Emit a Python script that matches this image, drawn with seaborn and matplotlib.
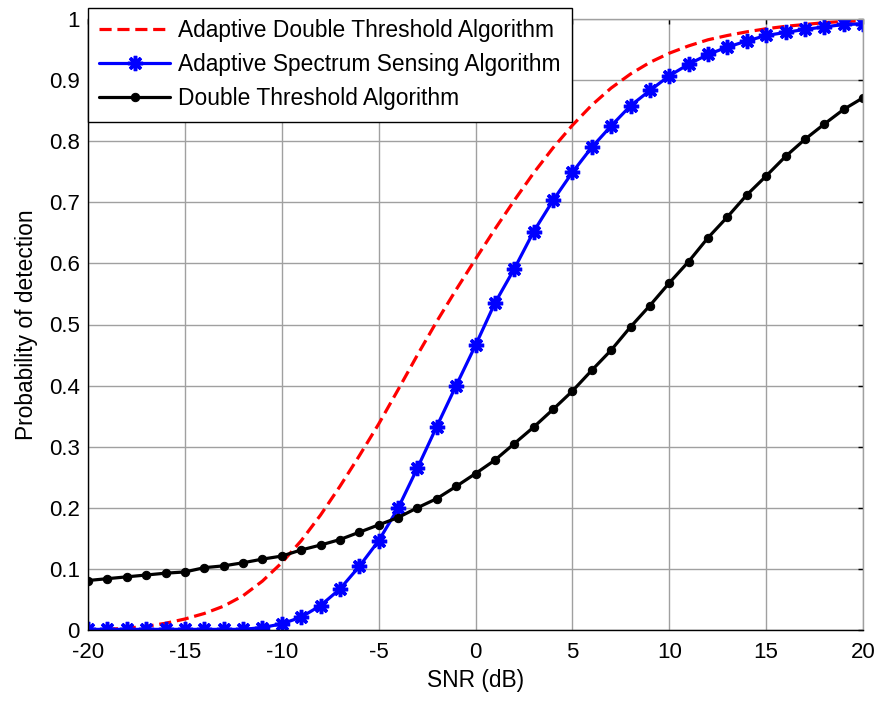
import numpy as np
import pandas as pd
import matplotlib
matplotlib.use("Agg")
import matplotlib.pyplot as plt
import seaborn as sns

# SNR axis (dB), one point per dB
snr = list(range(-20, 21))

# Adaptive Double Threshold Algorithm (red dashed)
adaptive_double = [0.000, 0.001, 0.003, 0.006, 0.011, 0.018, 0.027, 0.039, 0.056, 0.080,
                   0.110, 0.146, 0.188, 0.235, 0.285, 0.337, 0.393, 0.450, 0.505, 0.557,
                   0.607, 0.656, 0.703, 0.748, 0.789, 0.826, 0.859, 0.887, 0.910, 0.929,
                   0.944, 0.956, 0.966, 0.973, 0.979, 0.984, 0.988, 0.991, 0.994, 0.996,
                   0.997]

# Adaptive Spectrum Sensing Algorithm (blue, star markers)
adaptive_sensing = [0.001, 0.001, 0.001, 0.001, 0.001, 0.001, 0.001, 0.001, 0.001, 0.004,
                    0.010, 0.021, 0.040, 0.067, 0.104, 0.146, 0.199, 0.265, 0.333, 0.400,
                    0.466, 0.535, 0.591, 0.652, 0.703, 0.749, 0.790, 0.825, 0.858, 0.883,
                    0.907, 0.926, 0.942, 0.954, 0.964, 0.973, 0.978, 0.983, 0.987, 0.991,
                    0.992]

# Double Threshold Algorithm (black, dot markers)
double_threshold = [0.081, 0.084, 0.087, 0.090, 0.093, 0.095, 0.102, 0.105, 0.110, 0.116,
                    0.121, 0.131, 0.139, 0.148, 0.160, 0.172, 0.184, 0.200, 0.215, 0.235,
                    0.256, 0.278, 0.305, 0.332, 0.361, 0.391, 0.425, 0.458, 0.496, 0.531,
                    0.568, 0.603, 0.642, 0.676, 0.712, 0.743, 0.775, 0.803, 0.828, 0.852,
                    0.871]

labels = ["Adaptive Double Threshold Algorithm",
          "Adaptive Spectrum Sensing Algorithm",
          "Double Threshold Algorithm"]

df = pd.DataFrame({"snr": snr, "ad": adaptive_double,
                   "as": adaptive_sensing, "dt": double_threshold})

sns.set_style("white")
plt.rcParams["font.family"] = ["Liberation Sans", "DejaVu Sans"]
plt.rcParams["axes.unicode_minus"] = False
plt.rcParams["text.color"] = "black"
plt.rcParams["axes.labelcolor"] = "black"

fig = plt.figure(figsize=(8.82, 7.02), dpi=100)
ax = fig.add_axes([88 / 882, 1 - 630 / 702, (863 - 88) / 882, (630 - 19) / 702])

sns.lineplot(data=df, x="snr", y="ad", ax=ax, color="#ff0000", lw=2.3,
             linestyle=(0, (3.8, 1.8)), label=labels[0])
sns.lineplot(data=df, x="snr", y="as", ax=ax, color="#0000ff", lw=2.3,
             marker=(8, 2, 0), markersize=11, markeredgewidth=2.5,
             markeredgecolor="#0000ff", label=labels[1])
sns.lineplot(data=df, x="snr", y="dt", ax=ax, color="black", lw=2.3,
             marker="o", markersize=6, markeredgecolor="black", label=labels[2])

ax.set_xlim(-20, 20)
ax.set_ylim(0, 1)
ax.set_xticks(range(-20, 21, 5))
ax.set_yticks(np.arange(0, 1.01, 0.1))
ax.set_yticklabels(["0", "0.1", "0.2", "0.3", "0.4", "0.5", "0.6", "0.7", "0.8", "0.9", "1"])
ax.grid(True, color="#a0a0a0", lw=1)
ax.set_axisbelow(True)
ax.tick_params(direction="in", length=3.5, width=1, top=True, right=True,
               labelsize=16, colors="black")
ax.tick_params(axis="x", pad=9)
ax.tick_params(axis="y", pad=6)

for side in ["left", "bottom"]:
    ax.spines[side].set_color("black")
    ax.spines[side].set_linewidth(1)
for side in ["top", "right"]:
    ax.spines[side].set_color("#a0a0a0")
    ax.spines[side].set_linewidth(1)

ax.set_xlabel("SNR (dB)", fontsize=16.4, labelpad=4)
ax.set_ylabel("Probability of detection", fontsize=16.4, labelpad=8)

leg = ax.legend(loc="upper left", bbox_to_anchor=(0, (630 - 8) / 611), borderaxespad=0,
                fontsize=16.4, handlelength=3.1, handletextpad=0.35, labelspacing=0.48,
                borderpad=0.5, fancybox=False, framealpha=1, edgecolor="black")
leg.get_frame().set_linewidth(1)

fig.savefig("out.png", dpi=100)
